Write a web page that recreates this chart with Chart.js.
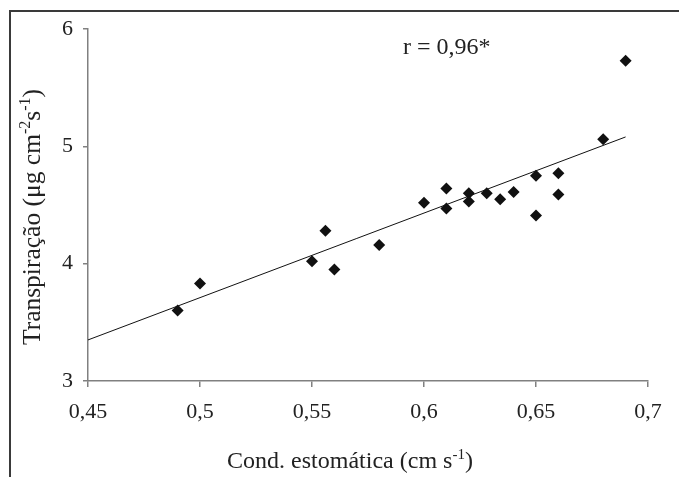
<!DOCTYPE html>
<html>
<head>
<meta charset="utf-8">
<script src="https://cdn.jsdelivr.net/npm/chart.js@4/dist/chart.umd.min.js"></script>
<style>
    html, body { margin: 0; padding: 0; background: #fff; }
    canvas { display: block; }
</style>
</head>
<body>
<canvas id="transpChart" width="679" height="477"></canvas>
<script>
// Transpiração vs condutância estomática - scatter with trend line

const condX = [0.49, 0.50, 0.55, 0.56, 0.556, 0.58, 0.60, 0.61, 0.61, 0.62,
               0.62, 0.628, 0.634, 0.64, 0.65, 0.65, 0.66, 0.66, 0.68, 0.69];
const transpY = [3.60, 3.83, 4.02, 3.95, 4.28, 4.16, 4.52, 4.64, 4.47, 4.60,
                 4.53, 4.60, 4.55, 4.61, 4.75, 4.41, 4.77, 4.59, 5.06, 5.73];

// trend line ends
const trendX = [0.45, 0.69];
const trendY = [3.35, 5.08];

const xTicks = [0.45, 0.5, 0.55, 0.6, 0.65, 0.7];
const yTicks = [3, 4, 5, 6];

const rLabel = 'r = 0,96*';
const xTitle = [{ t: 'Cond. estomática (cm s' }, { t: '-1', sup: true }, { t: ')' }];
const yTitle = [{ t: 'Transpiração (' }, { t: 'μ' }, { t: 'g cm' }, { t: '-2', sup: true },
                { t: 's' }, { t: '-1', sup: true }, { t: ')' }];

const SERIF = '"Liberation Serif", "Times New Roman", serif';
const TEXT = '#222';
const AXIS = '#808080';

// draws a line of text with superscript pieces, centred on x
function drawRich(ctx, parts, x, y, size) {
    const subSize = Math.round(size * 0.62);
    let total = 0;
    parts.forEach(p => {
        ctx.font = (p.sup ? subSize : size) + 'px ' + SERIF;
        total += ctx.measureText(p.t).width;
    });
    let cx = x - total / 2;
    ctx.textAlign = 'left';
    ctx.textBaseline = 'alphabetic';
    parts.forEach(p => {
        ctx.font = (p.sup ? subSize : size) + 'px ' + SERIF;
        ctx.fillText(p.t, cx, p.sup ? y - size * 0.38 : y);
        cx += ctx.measureText(p.t).width;
    });
}

const decorPlugin = {
    id: 'decor',
    beforeDraw(chart) {
        const ctx = chart.ctx;
        ctx.save();
        ctx.fillStyle = '#fff';
        ctx.fillRect(0, 0, chart.width, chart.height);
        // outer frame (runs off right and bottom)
        ctx.strokeStyle = '#3a3a3a';
        ctx.lineWidth = 2;
        ctx.strokeRect(10, 11, chart.width + 20, chart.height + 20);
        ctx.restore();
    },
    afterDraw(chart) {
        const ctx = chart.ctx;
        ctx.save();
        ctx.fillStyle = TEXT;

        // x title
        drawRich(ctx, xTitle, 350, 468, 24);

        // y title, rotated
        ctx.save();
        ctx.translate(40, 217);
        ctx.rotate(-Math.PI / 2);
        drawRich(ctx, yTitle, 0, 0, 25.5);
        ctx.restore();

        // correlation label
        ctx.font = '24px ' + SERIF;
        ctx.textAlign = 'left';
        ctx.textBaseline = 'alphabetic';
        ctx.fillText(rLabel, 403, 54);
        ctx.restore();
    }
};

const ctx = document.getElementById('transpChart');

new Chart(ctx, {
    type: 'scatter',
    data: {
        datasets: [{
            label: 'Transpiração',
            data: condX.map((x, i) => ({ x: x, y: transpY[i] })),
            pointStyle: 'rectRot',
            pointRadius: 6,
            pointHoverRadius: 6,
            backgroundColor: '#111',
            borderColor: '#111',
            borderWidth: 0
        }, {
            type: 'line',
            label: 'Tendência',
            data: trendX.map((x, i) => ({ x: x, y: trendY[i] })),
            borderColor: '#111',
            borderWidth: 1,
            pointRadius: 0,
            fill: false,
            tension: 0
        }]
    },
    options: {
        responsive: false,
        animation: false,
        layout: { padding: { top: 29, right: 31, left: 0, bottom: 0 } },
        plugins: {
            legend: { display: false },
            tooltip: { enabled: false }
        },
        scales: {
            x: {
                type: 'linear',
                min: 0.45,
                max: 0.7,
                afterBuildTicks: scale => { scale.ticks = xTicks.map(v => ({ value: v })); },
                afterFit: scale => { scale.height = 96; },
                ticks: {
                    callback: v => String(v).replace('.', ','),
                    font: { family: SERIF, size: 22 },
                    color: TEXT,
                    padding: 12,
                    maxRotation: 0
                },
                grid: { drawOnChartArea: false, drawTicks: true, tickLength: 6, color: AXIS, lineWidth: 1.5 },
                border: { display: true, color: AXIS, width: 1.5 }
            },
            y: {
                min: 3,
                max: 6,
                afterBuildTicks: scale => { scale.ticks = yTicks.map(v => ({ value: v })); },
                afterFit: scale => { scale.width = 88; },
                ticks: {
                    callback: v => String(v),
                    font: { family: SERIF, size: 22 },
                    color: TEXT,
                    padding: 10
                },
                grid: { drawOnChartArea: false, drawTicks: true, tickLength: 5, color: AXIS, lineWidth: 1.5 },
                border: { display: true, color: AXIS, width: 1.5 }
            }
        }
    },
    plugins: [decorPlugin]
});
</script>
</body>
</html>
